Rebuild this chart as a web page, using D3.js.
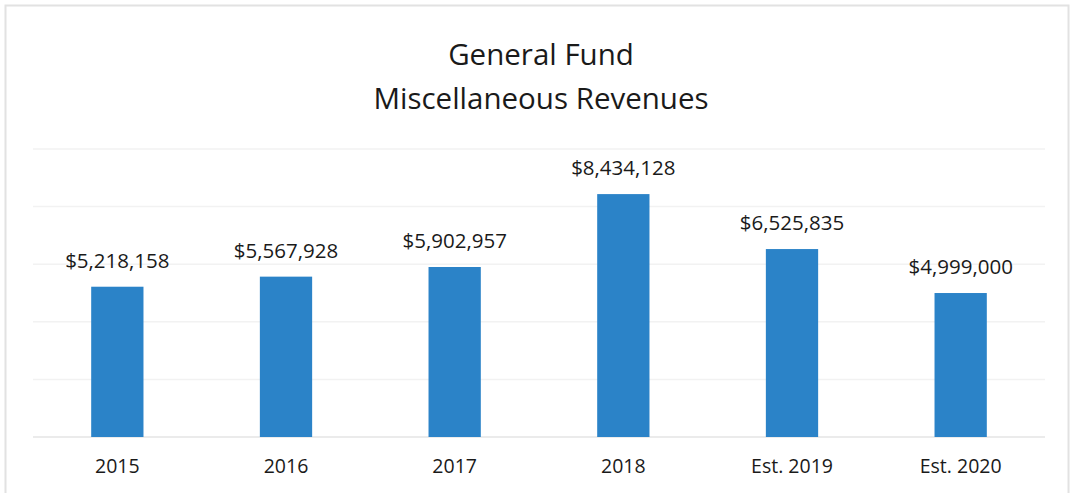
<!DOCTYPE html>
<html>
<head>
<meta charset="utf-8">
<script src="https://cdn.jsdelivr.net/npm/d3@7"></script>
<style>
  html, body { margin: 0; padding: 0; background: #fff; }
  svg { display: block; }
  text { font-family: "Open Sans", "Noto Sans", sans-serif; fill: #1a1a1a; }
</style>
</head>
<body>
<svg id="chart"></svg>
<script>
const categories = ['2015', '2016', '2017', '2018', 'Est. 2019', 'Est. 2020'];
const revenues = [5218158, 5567928, 5902957, 8434128, 6525835, 4999000];
const gridTicks = [0, 2000000, 4000000, 6000000, 8000000, 10000000];
const titleLines = ['General Fund', 'Miscellaneous Revenues'];

const width = 1075, height = 493;
const plot = {left: 33, right: 1045, top: 149, bottom: 437};

const svg = d3.select('#chart').attr('width', width).attr('height', height);

// faint outer frame, like the scanned chart border
svg.append('rect')
  .attr('x', 5.5).attr('y', 5.5)
  .attr('width', 1063).attr('height', 500)
  .attr('fill', 'none').attr('stroke', '#e2e2e2').attr('stroke-width', 2);

const x = d3.scaleBand().domain(categories).range([plot.left, plot.right]).paddingInner(0.69).paddingOuter(0.345);
const y = d3.scaleLinear().domain([0, 10000000]).range([plot.bottom, plot.top]);

// gridlines
svg.append('g')
  .selectAll('line')
  .data(gridTicks)
  .join('line')
  .attr('x1', plot.left).attr('x2', plot.right)
  .attr('y1', d => y(d)).attr('y2', d => y(d))
  .attr('stroke', d => d === 0 ? '#e4e4e4' : '#f2f2f2')
  .attr('stroke-width', 1.5);

// bars
svg.append('g')
  .selectAll('rect')
  .data(revenues)
  .join('rect')
  .attr('x', (d, i) => x(categories[i]))
  .attr('y', d => y(d))
  .attr('width', x.bandwidth())
  .attr('height', d => y(0) - y(d))
  .attr('fill', '#2b83c8');

// value labels
const fmt = d3.format('$,');
svg.append('g')
  .selectAll('text')
  .data(revenues)
  .join('text')
  .attr('x', (d, i) => x(categories[i]) + x.bandwidth() / 2)
  .attr('y', d => y(d) - 19)
  .attr('text-anchor', 'middle')
  .attr('font-size', 20.5)
  .text(d => fmt(d));

// category axis labels
const xAxis = svg.append('g')
  .attr('transform', `translate(0,${plot.bottom})`)
  .call(d3.axisBottom(x).tickSize(0).tickPadding(22));
xAxis.select('.domain').remove();
xAxis.selectAll('text')
  .attr('font-size', 19.5)
  .attr('font-family', '"Open Sans", "Noto Sans", sans-serif')
  .attr('fill', '#1a1a1a');

// title
svg.append('g')
  .selectAll('text')
  .data(titleLines)
  .join('text')
  .attr('x', 541)
  .attr('y', (d, i) => 65 + i * 44)
  .attr('text-anchor', 'middle')
  .attr('font-size', 29.5)
  .text(d => d);
</script>
</body>
</html>
